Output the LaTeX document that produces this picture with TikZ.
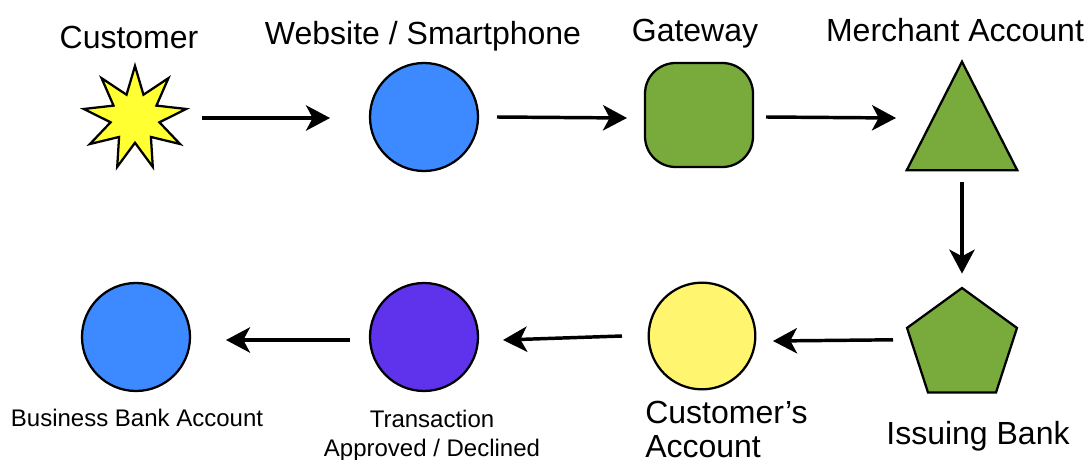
\documentclass[tikz,border=0pt]{standalone}
\usepackage{fontspec}
\setmainfont{Liberation Sans}
\usetikzlibrary{arrows.meta,shapes.geometric,calc}
\definecolor{cblue}{RGB}{61,137,255}
\definecolor{cgreen}{RGB}{120,170,60}
\definecolor{cstar}{RGB}{255,255,50}
\definecolor{cyel}{RGB}{255,245,110}
\definecolor{cpurp}{RGB}{95,50,235}
\begin{document}
\begin{tikzpicture}[x=0.75pt,y=-0.75pt,
  shp/.style={draw=black, line width=1.7pt, inner sep=0pt},
  disc/.style={shp, circle, minimum size=81pt},
  arr/.style={line width=2.6pt, -{Stealth[length=18pt,width=19pt,inset=5pt]}},
  big/.style={font=\fontsize{24}{26}\selectfont, inner sep=0pt},
  small/.style={font=\fontsize{18}{21.75}\selectfont, inner sep=0pt}
]
\useasboundingbox (0,0) rectangle (1086,460);

% shapes
\node[shp, star, star points=9, star point ratio=2.1, minimum size=78pt, fill=cstar] (cust) at (135,118) {};
\node[disc, fill=cblue] (web) at (424,117) {};
\node[shp, rectangle, rounded corners=23pt, minimum width=81pt, minimum height=78pt, fill=cgreen] (gate) at (699,115) {};
\node[inner sep=0pt, minimum width=82.5pt, minimum height=81pt] (merch) at (962,116) {};
\draw[line width=1.7pt, fill=cgreen, line join=miter] (merch.north) -- (merch.south east) -- (merch.south west) -- cycle;
\node[shp, regular polygon, regular polygon sides=5, minimum size=86.7pt, fill=cgreen] (issue) at (962,345.8) {};
\node[disc, minimum size=80pt, fill=cyel] (cacc) at (702,336) {};
\node[disc, minimum size=81pt, fill=cpurp] (trans) at (424,337) {};
\node[disc, minimum size=81pt, fill=cblue] (bank) at (136,337) {};

% labels
\node[big, anchor=base] (lcust) at (129,48.5) {Customer};
\node[big, anchor=base] (lweb) at (423,44.5) {Website / Smartphone};
\node[big, anchor=base] (lgate) at (695,41.5) {Gateway};
\node[big, anchor=base] (lmerch) at (955,41.5) {Merchant Account};
\node[big, anchor=base] (lissue) at (978,444.5) {Issuing Bank};
\node[big, anchor=north west, align=left, font=\fontsize{24}{26}\selectfont] (lcacc) at (645,400.5) {Customer’s\\Account};
\node[small, anchor=north, align=center] (ltrans) at (432,410) {Transaction\\Approved / Declined};
\node[small, anchor=base] (lbank) at (137,426.5) {Business Bank Account};

% connectors
\draw[arr] ($(cust.center)+(67,0)$) -- ($(web.center)+(-94,1)$);
\draw[arr] ($(web.center)+(73,0)$) -- ($(gate.center)+(-72,3)$);
\draw[arr] ($(gate.center)+(67,2)$) -- ($(merch.center)+(-66,2)$);
\draw[arr] ($(merch.center)+(0,66)$) -- ($(issue.north)+(0,-13)$);
\draw[arr] ($(issue.center)+(-69,-6)$) -- ($(cacc.center)+(71,5)$);
\draw[arr] ($(cacc.center)+(-80,0)$) -- ($(trans.center)+(79,3)$);
\draw[arr] ($(trans.center)+(-74,3)$) -- ($(bank.center)+(90,3)$);
\end{tikzpicture}
\end{document}
